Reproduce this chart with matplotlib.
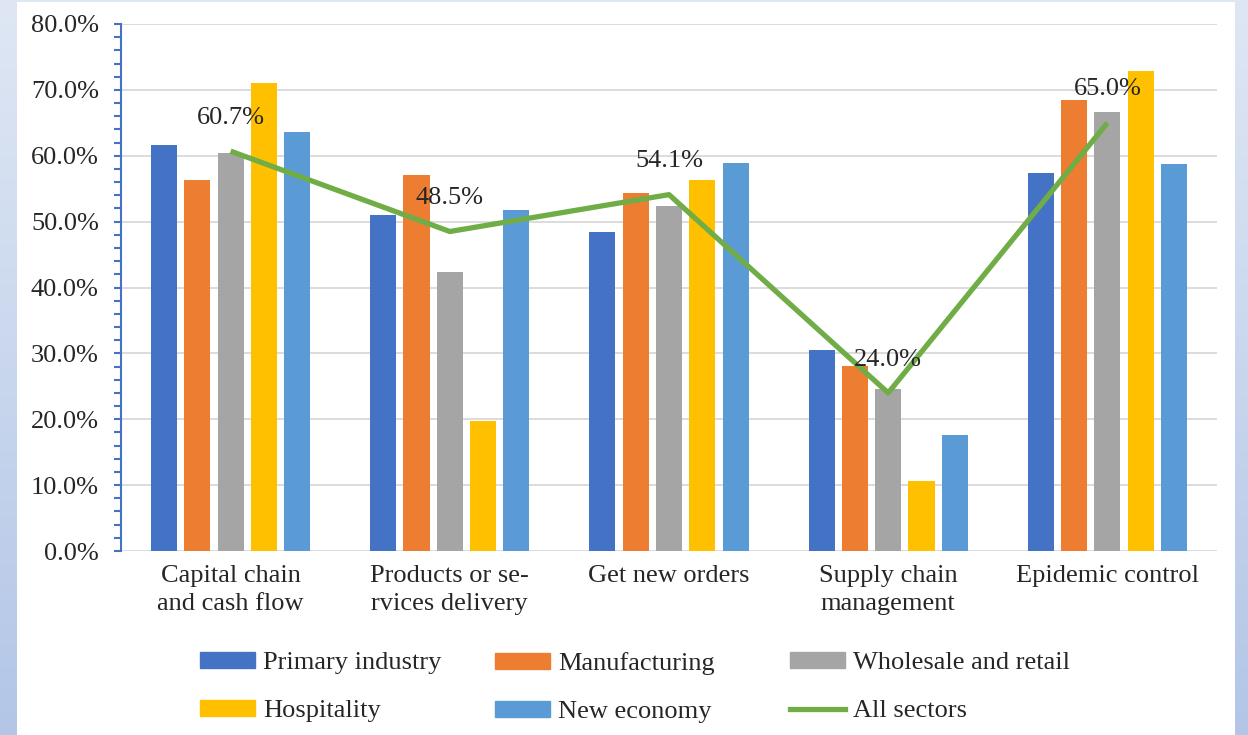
import numpy as np
import matplotlib
matplotlib.use("Agg")
import matplotlib.pyplot as plt
from matplotlib.patches import Patch, Rectangle
from matplotlib.lines import Line2D
from matplotlib.ticker import MultipleLocator, FuncFormatter
from matplotlib.colors import LinearSegmentedColormap

categories = ["Capital chain\nand cash flow", "Products or se-\nrvices delivery",
              "Get new orders", "Supply chain\nmanagement", "Epidemic control"]
series_names = ["Primary industry", "Manufacturing", "Wholesale and retail",
                "Hospitality", "New economy"]
primary = [61.6, 51.0, 48.4, 30.5, 57.4]
manufacturing = [56.3, 57.1, 54.3, 28.1, 68.5]
wholesale = [60.4, 42.4, 52.4, 24.6, 66.6]
hospitality = [71.0, 19.7, 56.3, 10.6, 72.9]
new_economy = [63.6, 51.8, 58.9, 17.6, 58.7]
all_sectors = [60.7, 48.5, 54.1, 24.0, 65.0]
line_name = "All sectors"

colors = ["#4472c4", "#ed7d31", "#a5a5a5", "#ffc000", "#5b9bd5"]
line_color = "#70ad47"
text_color = "#262626"

plt.rcParams['font.family'] = ['Liberation Serif', 'DejaVu Serif']

fig = plt.figure(figsize=(12.48, 7.35), dpi=100)

# background gradient and white panel
bg = fig.add_axes([0, 0, 1, 1], zorder=-10)
grad = np.linspace(0, 1, 256).reshape(-1, 1)
cmap = LinearSegmentedColormap.from_list("bg", ["#dfe7f4", "#b3c6e7"])
bg.imshow(grad, aspect='auto', cmap=cmap, extent=[0, 1, 0, 1], origin='upper')
bg.add_patch(Rectangle((17/1248, 0), (1235-17)/1248, 733/735, facecolor='white',
                       edgecolor='none', transform=bg.transAxes))
bg.set_xlim(0, 1); bg.set_ylim(0, 1)
bg.axis('off')

ax = fig.add_axes([121/1248, 1-551/735, (1217-121)/1248, (551-24)/735])
ax.set_facecolor('none')

x = np.arange(len(categories))
data = [primary, manufacturing, wholesale, hospitality, new_economy]
pitch = 0.152
width = 0.119
for i, (vals, c) in enumerate(zip(data, colors)):
    ax.bar(x + (i-2)*pitch, vals, width=width, color=c, zorder=3, label=series_names[i])

ax.plot(x, all_sectors, color=line_color, lw=3.8, zorder=4, solid_capstyle='butt')
for xi, v in zip(x, all_sectors):
    ax.annotate(f"{v:.1f}%", (xi, v), xytext=(0, 24), textcoords='offset points',
                ha='center', va='center', fontsize=19, color=text_color, zorder=5)

ax.set_xlim(-0.5, len(categories)-0.5)
ax.set_ylim(0, 80)
ax.yaxis.set_major_locator(MultipleLocator(10))
ax.yaxis.set_minor_locator(MultipleLocator(2))
ax.yaxis.set_major_formatter(FuncFormatter(lambda v, p: f"{v:.1f}%"))
ax.grid(axis='y', color='#d9d9d9', lw=1.3, zorder=0)
for s in ['top', 'right', 'bottom']:
    ax.spines[s].set_visible(False)
ax.spines['left'].set_color('#4472c4')
ax.spines['left'].set_linewidth(1.5)
ax.tick_params(axis='y', which='both', color='#4472c4', length=5, width=1.5,
               labelsize=19, labelcolor=text_color, pad=11)
ax.set_xticks(x)
ax.set_xticklabels(categories, fontsize=19, color=text_color, linespacing=1.38)
ax.tick_params(axis='x', length=0, pad=10)

handles = [Patch(color=c) for c in colors] + [Line2D([], [], color=line_color, lw=3.8)]
labels = series_names + [line_name]
cols = [[0, 3], [1, 4], [2, 5]]
xs = [200, 495, 790]
for col, xp in zip(cols, xs):
    lg = fig.legend([handles[k] for k in col], [labels[k] for k in col],
                    loc='upper left', bbox_to_anchor=(xp/1248, 1-652/735),
                    frameon=False, fontsize=19, handlelength=2.1, handleheight=0.55,
                    handletextpad=0.3, labelspacing=0.98, borderpad=0, borderaxespad=0)
    for t in lg.get_texts():
        t.set_color(text_color)

fig.savefig("out.png", dpi=100)
